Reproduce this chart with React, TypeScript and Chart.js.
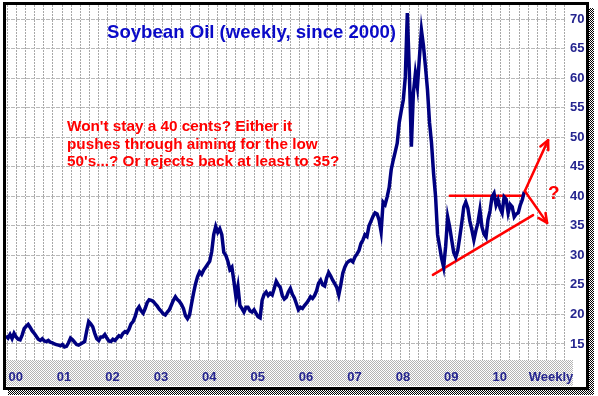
import React, { useEffect, useRef } from 'react';
import { Chart, registerables } from 'chart.js';

Chart.register(...registerables);

// Weekly soybean oil price, sampled twice a month (cents/lb), one array per year
const y2000 = [16.4, 16.0, 16.6, 15.9, 16.8, 16.2, 15.8, 15.7, 16.5, 17.6, 18.0, 18.3, 17.8, 17.2, 16.8, 16.3, 15.8, 15.6, 15.9, 15.5, 15.4, 15.6, 15.3, 15.2];
const y2001 = [15.0, 14.9, 14.8, 14.7, 14.9, 14.5, 14.6, 15.2, 16.0, 15.7, 15.3, 14.9, 14.8, 15.0, 15.2, 15.4, 17.2, 18.8, 18.4, 17.9, 16.8, 15.9, 15.6, 16.2];
const y2002 = [16.2, 16.6, 16.0, 15.5, 15.4, 15.8, 15.6, 16.0, 16.4, 16.2, 16.8, 17.1, 16.9, 17.5, 18.4, 18.8, 19.6, 20.8, 21.3, 20.6, 20.2, 21.0, 22.0, 22.5];
const y2003 = [22.4, 22.2, 21.8, 21.4, 20.9, 20.5, 20.1, 19.9, 20.4, 20.8, 21.6, 22.4, 23.0, 22.5, 22.2, 21.7, 21.0, 19.8, 19.3, 19.9, 21.8, 23.6, 25.2, 26.4];
const y2004 = [27.2, 26.8, 27.5, 28.0, 28.5, 29.0, 30.6, 33.5, 34.9, 33.9, 34.5, 33.5, 30.5, 30.0, 29.0, 27.6, 28.0, 25.6, 23.0, 24.8, 21.5, 21.0, 20.4, 21.2];
const y2005 = [21.2, 20.6, 20.4, 20.8, 20.2, 19.6, 19.4, 22.4, 23.4, 23.8, 23.2, 23.6, 23.3, 24.4, 25.6, 25.0, 24.6, 23.2, 22.6, 22.9, 23.8, 24.4, 23.4, 22.8];
const y2006 = [21.8, 20.8, 21.2, 21.0, 21.5, 21.9, 22.4, 23.0, 22.7, 23.2, 24.0, 25.3, 25.8, 25.0, 24.8, 26.2, 27.1, 26.5, 25.8, 25.2, 24.6, 23.3, 25.0, 27.0];
const y2007 = [28.0, 28.7, 29.0, 29.2, 28.9, 29.7, 30.2, 30.8, 32.0, 32.6, 33.5, 33.2, 35.0, 35.8, 36.6, 37.2, 37.0, 36.0, 34.0, 39.0, 38.6, 39.9, 41.5, 44.5];
const y2008 = [46.1, 47.5, 49.0, 52.5, 54.5, 56.3, 60.2, 71.0, 61.0, 48.4, 57.5, 60.8, 58.5, 63.5, 68.1, 65.5, 61.9, 58.0, 52.5, 49.0, 43.9, 40.0, 33.5, 31.5];
const y2009 = [29.5, 28.0, 31.5, 36.5, 34.8, 32.6, 30.5, 29.7, 30.8, 33.1, 35.5, 38.2, 39.0, 38.0, 35.8, 34.3, 32.6, 34.2, 35.5, 37.7, 34.8, 33.6, 33.1, 36.0];
const y2010 = [37.5, 39.9, 40.5, 38.5, 39.4, 38.0, 37.2, 39.9, 39.5, 37.2, 38.6, 38.2, 36.5, 37.0, 37.2, 38.5, 39.4, 40.8];

const yearSeries = [y2000, y2001, y2002, y2003, y2004, y2005, y2006, y2007, y2008, y2009, y2010];
const samplesPerYear = 24;

const yearLabels = ['00', '01', '02', '03', '04', '05', '06', '07', '08', '09', '10'];
const periodLabel = 'Weekly';
const yTickValues = [15, 20, 25, 30, 35, 40, 45, 50, 55, 60, 65, 70];

const titleText = 'Soybean Oil (weekly, since 2000)';
const noteLines = [
  "Won't stay a 40 cents? Either it",
  'pushes through aiming for the low',
  "50's...? Or rejects back at least to 35?",
];

// Annotation geometry in data units (x: years since 2000, y: price)
const resistanceLine = { x1: 9.17, x2: 10.66, y: 40.1 };
const supportLine = { x1: 8.82, y1: 26.7, x2: 10.89, y2: 36.8 };
const arrowStart = { x: 10.72, y: 40.9 };
const arrowUpEnd = { x: 11.2, y: 49.5 };
const arrowDownEnd = { x: 11.18, y: 35.5 };
const questionPos = { x: 11.32, y: 40.4 };

const X_MIN = 0;
const X_MAX = 11.57;
const Y_MIN = 12.29;
const Y_MAX = 72.37;
const GRID_START = 0.027;
const GRID_STEP = 0.1888;
const LABEL_OFFSET = 0.2;
const PERIOD_LABEL_POS = 11.26;

const FONT = "'Liberation Sans', Arial, sans-serif";
const NAVY = '#25258f';
const RED = '#ff0000';

function makePattern(ctx: CanvasRenderingContext2D, a: string, b: string) {
  const c = document.createElement('canvas');
  c.width = 2;
  c.height = 2;
  const p = c.getContext('2d')!;
  p.fillStyle = b;
  p.fillRect(0, 0, 2, 2);
  p.fillStyle = a;
  p.fillRect(0, 0, 1, 1);
  p.fillRect(1, 1, 1, 1);
  return ctx.createPattern(c, 'repeat')!;
}

function drawArrow(ctx: CanvasRenderingContext2D, x1: number, y1: number, x2: number, y2: number) {
  ctx.beginPath();
  ctx.moveTo(x1, y1);
  ctx.lineTo(x2, y2);
  ctx.stroke();
  const ang = Math.atan2(y2 - y1, x2 - x1);
  const len = 10;
  const spread = 0.45;
  ctx.beginPath();
  ctx.moveTo(x2 - len * Math.cos(ang - spread), y2 - len * Math.sin(ang - spread));
  ctx.lineTo(x2, y2);
  ctx.lineTo(x2 - len * Math.cos(ang + spread), y2 - len * Math.sin(ang + spread));
  ctx.stroke();
}

const decorPlugin = {
  id: 'decor',
  beforeDraw(chart: any) {
    const { ctx, chartArea, width, height } = chart;
    ctx.save();
    ctx.fillStyle = '#ffffff';
    ctx.fillRect(0, 0, width, height);
    ctx.fillStyle = makePattern(ctx, '#b4b4b4', '#ffffff');
    ctx.fillRect(chartArea.left, chartArea.bottom, 573 - chartArea.left, 26);
    ctx.restore();
  },
  beforeDatasetsDraw(chart: any) {
    const { ctx, scales } = chart;
    const xs = scales.x;
    const ys = scales.y;
    ctx.save();
    ctx.strokeStyle = RED;
    ctx.lineWidth = 2.5;
    ctx.lineCap = 'round';
    ctx.beginPath();
    ctx.moveTo(xs.getPixelForValue(resistanceLine.x1), ys.getPixelForValue(resistanceLine.y));
    ctx.lineTo(xs.getPixelForValue(resistanceLine.x2), ys.getPixelForValue(resistanceLine.y));
    ctx.stroke();
    ctx.beginPath();
    ctx.moveTo(xs.getPixelForValue(supportLine.x1), ys.getPixelForValue(supportLine.y1));
    ctx.lineTo(xs.getPixelForValue(supportLine.x2), ys.getPixelForValue(supportLine.y2));
    ctx.stroke();
    ctx.restore();
  },
  afterDatasetsDraw(chart: any) {
    const { ctx, scales, chartArea } = chart;
    const xs = scales.x;
    const ys = scales.y;
    ctx.save();
    // arrows
    ctx.strokeStyle = RED;
    ctx.lineWidth = 2.5;
    ctx.lineCap = 'round';
    ctx.lineJoin = 'round';
    const sx = xs.getPixelForValue(arrowStart.x);
    const sy = ys.getPixelForValue(arrowStart.y);
    drawArrow(ctx, sx, sy, xs.getPixelForValue(arrowUpEnd.x), ys.getPixelForValue(arrowUpEnd.y));
    drawArrow(ctx, sx, sy, xs.getPixelForValue(arrowDownEnd.x), ys.getPixelForValue(arrowDownEnd.y));
    // question mark
    ctx.fillStyle = RED;
    ctx.font = `bold 19px ${FONT}`;
    ctx.textAlign = 'center';
    ctx.textBaseline = 'middle';
    ctx.fillText('?', xs.getPixelForValue(questionPos.x), ys.getPixelForValue(questionPos.y));
    // title
    ctx.textAlign = 'left';
    ctx.textBaseline = 'alphabetic';
    ctx.fillStyle = '#0a0ac8';
    ctx.font = `bold 18.6px ${FONT}`;
    ctx.fillText(titleText, chartArea.left + 101, chartArea.top + 33);
    // note
    ctx.fillStyle = RED;
    ctx.font = `bold 15.3px ${FONT}`;
    noteLines.forEach((line, i) => {
      ctx.fillText(line, chartArea.left + 61, chartArea.top + 126 + i * 17.5);
    });
    ctx.restore();
  },
  afterDraw(chart: any) {
    const { ctx } = chart;
    ctx.save();
    ctx.strokeStyle = '#000000';
    ctx.lineWidth = 3;
    ctx.strokeRect(4.5, 3.5, 583, 385);
    ctx.fillStyle = makePattern(ctx, '#000000', '#ffffff');
    ctx.fillRect(589, 8, 5, 386);
    ctx.fillRect(8, 390, 586, 5);
    ctx.restore();
  },
};

export default function App() {
  const ref = useRef<HTMLCanvasElement>(null);

  useEffect(() => {
    const points: { x: number; y: number }[] = [];
    yearSeries.forEach((arr, yi) => {
      arr.forEach((v, i) => points.push({ x: yi + i / samplesPerYear, y: v }));
    });

    const gridTicks: number[] = [];
    for (let v = GRID_START; v <= X_MAX; v += GRID_STEP) gridTicks.push(v);
    const labelTicks = yearLabels.map((_, i) => i + LABEL_OFFSET).concat([PERIOD_LABEL_POS]);
    const allLabels = yearLabels.concat([periodLabel]);

    const chart = new Chart(ref.current!, {
      type: 'line',
      data: {
        datasets: [
          {
            data: points,
            borderColor: '#000080',
            borderWidth: 3.5,
            pointRadius: 0,
            tension: 0,
            fill: false,
            borderJoinStyle: 'miter',
          },
        ],
      },
      options: {
        animation: false,
        responsive: false,
        events: [],
        layout: { padding: { left: 6, top: 5, right: 8, bottom: 10 } },
        plugins: { legend: { display: false }, tooltip: { enabled: false }, title: { display: false } },
        scales: {
          x: {
            type: 'linear',
            position: 'bottom',
            min: X_MIN,
            max: X_MAX,
            afterBuildTicks: (s: any) => {
              s.ticks = gridTicks.map((v) => ({ value: v }));
            },
            afterFit: (s: any) => {
              s.height = 0;
              s.paddingLeft = 0;
              s.paddingRight = 0;
            },
            ticks: { display: false, autoSkip: false },
            grid: { color: '#a8a8a8', lineWidth: 1, drawTicks: false },
            border: { display: false, dash: [2, 1] },
          },
          xl: {
            type: 'linear',
            position: 'bottom',
            min: X_MIN,
            max: X_MAX,
            afterBuildTicks: (s: any) => {
              s.ticks = labelTicks.map((v) => ({ value: v }));
            },
            afterFit: (s: any) => {
              s.height = 26;
              s.paddingLeft = 0;
              s.paddingRight = 0;
            },
            ticks: {
              autoSkip: false,
              maxRotation: 0,
              minRotation: 0,
              padding: 10,
              color: NAVY,
              font: { family: FONT, size: 13, weight: 'bold' },
              callback: (_v: any, i: number) => allLabels[i],
            },
            grid: { display: false, drawTicks: false },
            border: { display: false },
          },
          y: {
            type: 'linear',
            position: 'right',
            min: Y_MIN,
            max: Y_MAX,
            afterBuildTicks: (s: any) => {
              s.ticks = yTickValues.map((v) => ({ value: v }));
            },
            afterFit: (s: any) => {
              s.width = 24;
              s.paddingTop = 0;
              s.paddingBottom = 0;
            },
            ticks: {
              padding: 4,
              color: NAVY,
              font: { family: FONT, size: 13, weight: 'bold' },
              callback: (v: any) => String(v),
            },
            grid: { color: '#b8b8b8', lineWidth: 1, drawTicks: false },
            border: { display: false, dash: [4, 1] },
          },
        },
      },
      plugins: [decorPlugin],
    } as any);

    return () => chart.destroy();
  }, []);

  return (
    <div style={{ position: 'absolute', left: 0, top: 0, width: 598, height: 396, background: '#fff' }}>
      <canvas ref={ref} width={598} height={396} style={{ display: 'block', width: 598, height: 396 }} />
    </div>
  );
}
